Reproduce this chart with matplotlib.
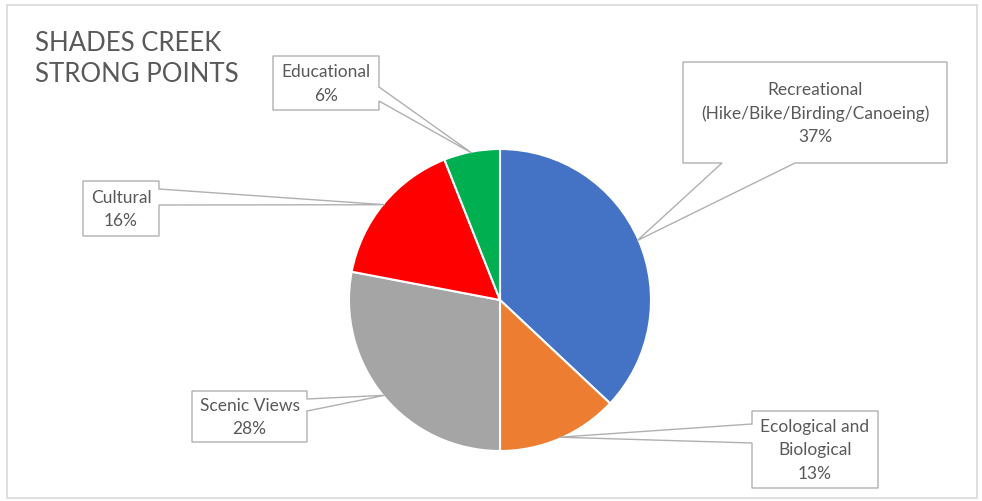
import numpy as np
import matplotlib
matplotlib.use("Agg")
import matplotlib.pyplot as plt
from matplotlib.patches import Polygon, Rectangle

plt.rcParams["font.family"] = ["Lato", "DejaVu Sans"]

# shares of the creek's strong points, clockwise from 12 o'clock
categories = ["Recreational\n(Hike/Bike/Birding/Canoeing)", "Ecological and\nBiological",
              "Scenic Views", "Cultural", "Educational"]
shares = [37, 13, 28, 16, 6]
colors = ["#4472C4", "#ED7D31", "#A5A5A5", "#FF0000", "#00B050"]

W, H = 982, 502
TXT = "#595959"
EDGE = "#b0b0b0"

# callout boxes in pixel coords (left, top, right, bottom), side of the pointer, base span
callouts = [
    ((683, 63, 947, 164), "bottom", (722, 795)),
    ((752, 412, 878, 489), "left", (425, 444)),
    ((192, 392, 307, 443), "right", (400, 412)),
    ((83, 182, 159, 237), "right", (190, 206)),
    ((273, 57, 379, 111), "right", (88, 102)),
]

fig = plt.figure(figsize=(W / 100, H / 100), dpi=100)
ax = fig.add_axes([0, 0, 1, 1])
ax.set_xlim(0, W)
ax.set_ylim(0, H)
ax.axis("off")

def py(y):
    return H - y

# chart frame
ax.add_patch(Rectangle((7, py(499)), 970, 493, fill=False, ec="#d9d9d9", lw=1.2))

cx, cy, r = 500, py(301), 151
wedges, _ = ax.pie(shares, colors=colors, startangle=90, counterclock=False,
                   center=(cx, cy), radius=r, frame=True,
                   wedgeprops=dict(edgecolor="white", linewidth=1.5))
ax.set_xlim(0, W)
ax.set_ylim(0, H)
ax.set_aspect("equal")
ax.axis("off")


def callout(box, side, base, tip, text):
    l, t, rr, b = box
    t, b = py(t), py(b)
    if side == "bottom":
        pts = [(l, t), (rr, t), (rr, b), (base[1], b), tip, (base[0], b), (l, b)]
    elif side == "left":
        pts = [(l, t), (rr, t), (rr, b), (l, b), (l, py(base[1])), tip, (l, py(base[0]))]
    else:
        pts = [(l, t), (rr, t), (rr, py(base[0])), tip, (rr, py(base[1])), (rr, b), (l, b)]
    ax.add_patch(Polygon(pts, closed=True, fc="white", ec=EDGE, lw=1.0, zorder=3))
    ax.text((l + rr) / 2, (t + b) / 2, text, ha="center", va="center", fontsize=12.5,
            color=TXT, linespacing=1.55, zorder=4)


for w, name, share, (box, side, base) in zip(wedges, categories, shares, callouts):
    ang = np.deg2rad((w.theta1 + w.theta2) / 2)
    tip = (cx + r * 0.99 * np.cos(ang), cy + r * 0.99 * np.sin(ang))
    callout(box, side, base, tip, f"{name}\n{share}%")

ax.text(35, py(59), "SHADES CREEK\nSTRONG POINTS", ha="left", va="center",
        fontsize=18.5, color=TXT, linespacing=1.32)

fig.savefig("out.png", dpi=100, facecolor="white")
